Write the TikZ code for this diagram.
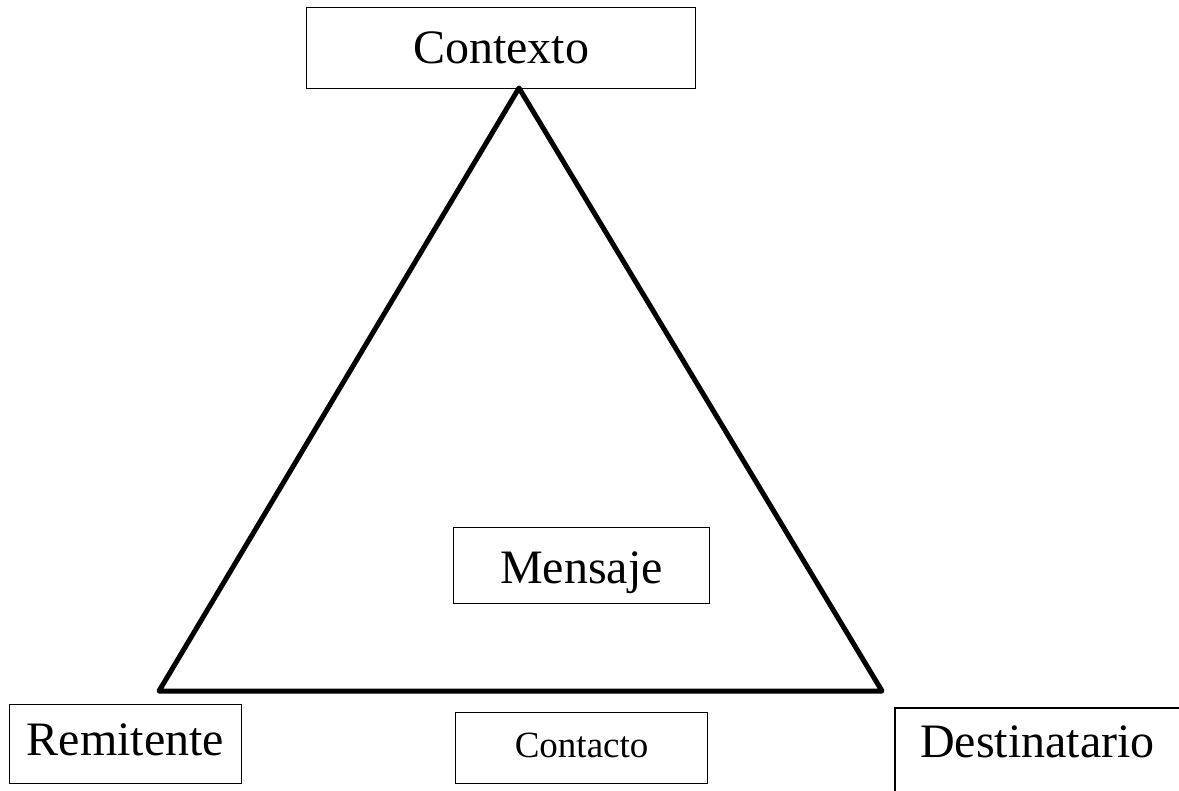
\documentclass[tikz,border=0pt]{standalone}
\usepackage{fontspec}
\setmainfont{Liberation Serif}
\begin{document}
\begin{tikzpicture}[x=1pt,y=-1pt,
    box/.style={draw, line width=1.2pt, inner sep=0pt, anchor=north west,
      font=\fontsize{48}{58}\selectfont},
    side/.style={line width=5pt, line join=round, line cap=round}]
  \useasboundingbox (0,0) rectangle (1179,791);
  \clip (0,0) rectangle (1179,791);

  \coordinate (apex) at (519,88);
  \coordinate (left) at (159,691);
  \coordinate (right) at (882,691);
  \draw[side] (apex) -- (left) -- (right) -- cycle;

  \node[box, minimum width=389, text height=56, text depth=25] (ctx) at (306,7) {Contexto};
  \node[box, minimum width=256, text height=56, text depth=20] (msg) at (453,527) {Mensaje};
  \node[box, minimum width=232, text height=51, text depth=28] (rem) at (9,704) {Remitente};
  \node[box, minimum width=252, text height=45, text depth=26,
    font=\fontsize{37}{45}\selectfont] (con) at (455,712) {Contacto};
  \node[box, draw=none, minimum width=284, text height=49, text depth=60] (dst) at (895,708) {Destinatario};
  \draw[line width=1.2pt] (dst.south west) |- ([xshift=20]dst.north east);
\end{tikzpicture}
\end{document}
